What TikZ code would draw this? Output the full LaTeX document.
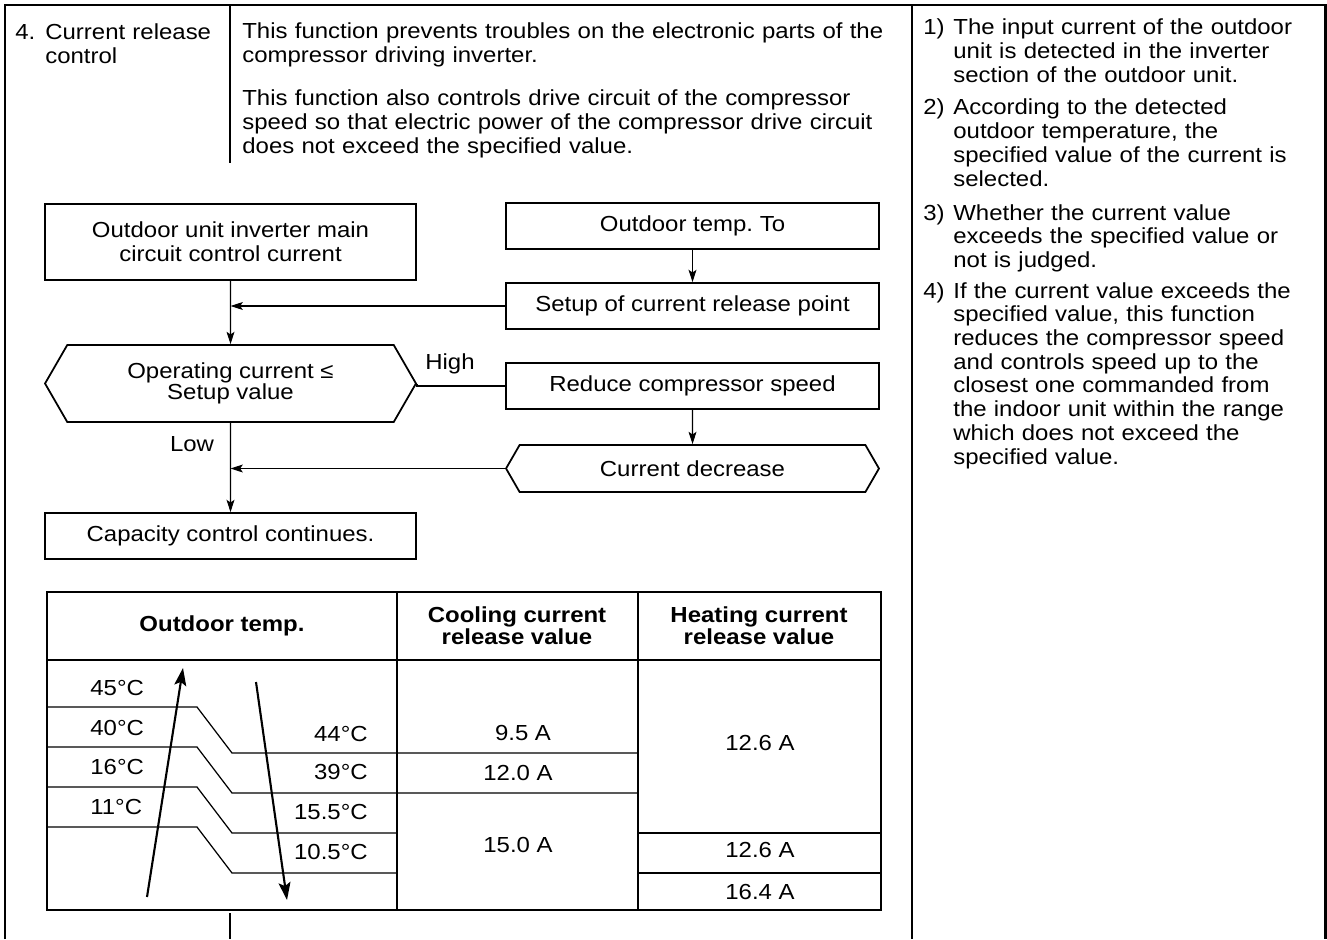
\documentclass[tikz,border=0pt]{standalone}
\usepackage{fontspec}
\setmainfont{Liberation Sans}[FakeStretch=1.1]
\usetikzlibrary{arrows.meta,shapes.symbols,positioning}

\newcommand{\flowfont}{\fontsize{12.4pt}{13.5pt}\selectfont}

\tikzset{
  flowbox/.style={draw, line width=1pt, inner sep=0pt, align=center, font=\flowfont,
    minimum width=7.42cm, minimum height=0.92cm},
  hexa/.style={flowbox, shape=signal, signal to=west and east, signal pointer angle=120},
  link/.style={line width=0.6pt, -{Stealth[length=7pt,width=4.5pt,inset=1.5pt]}},
  trend/.style={line width=1.2pt, -{Stealth[length=10pt,width=6.8pt,inset=2pt]}},
  para/.style={inner sep=0pt, anchor=base west, align=left, font=\flowfont},
  cell/.style={inner sep=0pt, font=\flowfont},
  head/.style={inner sep=0pt, align=center, font=\flowfont\bfseries},
  frame/.style={line width=1.2pt},
  rule/.style={line width=0.7pt},
}

\begin{document}
\begin{tikzpicture}[x=0.02cm, y=-0.02cm]
  \useasboundingbox (0,0) rectangle (1327,939);

  % page frame and columns
  \draw[frame] (5,939) -- (5,5) -- (1325.5,5) -- (1325.5,939);
  \draw[rule] (230,5) -- (230,163) (230,913) -- (230,939);
  \draw[rule, line width=0.9pt] (912,5) -- (912,939);

  % column texts
  \node[para] (num) at (15,40) {4.};
  \node[para, text width=3.6cm] (title) at (45,40) {Current release\\control};
  \node[para, text width=13.4cm] (desc1) at (242,39)
    {This function prevents troubles on the electronic parts of the\\compressor driving inverter.};
  \node[para, text width=13.4cm] (desc2) at (242,106)
    {This function also controls drive circuit of the compressor\\speed so that electric power of the compressor drive circuit\\does not exceed the specified value.};

  \node[para] (n1) at (923,35) {1)};
  \node[para, text width=7.4cm] (i1) at (953,35)
    {The input current of the outdoor\\unit is detected in the inverter\\section of the outdoor unit.};
  \node[para] (n2) at (923,115) {2)};
  \node[para, text width=7.4cm] (i2) at (953,115)
    {According to the detected\\outdoor temperature, the\\specified value of the current is\\selected.};
  \node[para] (n3) at (923,220) {3)};
  \node[para, text width=7.4cm] (i3) at (953,220)
    {Whether the current value\\exceeds the specified value or\\not is judged.};
  \node[para] (n4) at (923,298) {4)};
  \node[para, text width=7.4cm] (i4) at (953,298)
    {If the current value exceeds the\\specified value, this function\\reduces the compressor speed\\and controls speed up to the\\closest one commanded from\\the indoor unit within the range\\which does not exceed the\\specified value.};

  % flow chart
  \node[flowbox, minimum height=1.52cm] (main) at (230.5,242)
    {Outdoor unit inverter main\\circuit control current};
  \node[hexa, minimum height=1.54cm, font=\fontsize{12.4pt}{11.6pt}\selectfont] (judge) at (230.5,383.5)
    {Operating current ≤\\Setup value};
  \node[flowbox] (cont) at (230.5,536) {Capacity control continues.};
  \node[flowbox, minimum width=7.46cm] (otemp) at (692.5,226) {Outdoor temp.\ To};
  \node[flowbox, minimum width=7.46cm] (setup) at (692.5,306) {Setup of current release point};
  \node[flowbox, minimum width=7.46cm] (reduce) at (692.5,386) {Reduce compressor speed};
  \node[hexa, minimum width=7.46cm, minimum height=0.94cm] (drop) at (692.5,468.5) {Current decrease};

  \draw[link] (main) -- (judge);
  \draw[link] (otemp) -- (setup);
  \draw[link] (setup.west) -- (setup.west -| main.south);
  \draw[line width=0.6pt] (judge.east) -- (reduce.west -| judge.east) -- (reduce.west);
  \node[cell, anchor=base] (high) at (450,369) {High};
  \draw[link] (reduce) -- (drop);
  \draw[link] (drop.west) -- (drop.west -| judge.south);
  \draw[link] (judge) -- (cont);
  \node[cell, anchor=base] (low) at (192,451) {Low};

  % release value table
  \draw[frame] (47,592) rectangle (881,910);
  \draw[frame] (47,660) -- (881,660);
  \draw[rule] (397,592) -- (397,910) (638,592) -- (638,910);
  \foreach \y/\e in {707/638, 747/638, 787/397, 827/397}
    \draw[rule] (47,\y) -- (197,\y) -- (232,\y+46) -- (\e,\y+46);
  \draw[rule] (638,833) -- (881,833) (638,873) -- (881,873);

  \node[head] (hout) at (222,626) {Outdoor temp.};
  \node[head, font=\fontsize{12.4pt}{12.6pt}\selectfont\bfseries] (hcool) at (517,626) {Cooling current\\release value};
  \node[head, font=\fontsize{12.4pt}{12.6pt}\selectfont\bfseries] (hheat) at (759,626) {Heating current\\release value};

  \foreach \t/\y in {45/695, 40/735, 16/774, 11/814}
    \node[cell, anchor=base west] at (90,\y) {\t°C};
  \foreach \t/\y in {44/741, 39/779, 15.5/819, 10.5/859}
    \node[cell, anchor=base east] at (368,\y) {\t°C};

  \node[cell] (c1) at (523,733) {9.5 A};
  \node[cell] (c2) at (518,773) {12.0 A};
  \node[cell] (c3) at (518,845) {15.0 A};
  \node[cell] (h1) at (760,743) {12.6 A};
  \node[cell] (h2) at (760,850) {12.6 A};
  \node[cell] (h3) at (760,892) {16.4 A};

  \draw[trend] (147,897) -- (183,668);
  \draw[trend] (256,682) -- (287,900);
\end{tikzpicture}
\end{document}
